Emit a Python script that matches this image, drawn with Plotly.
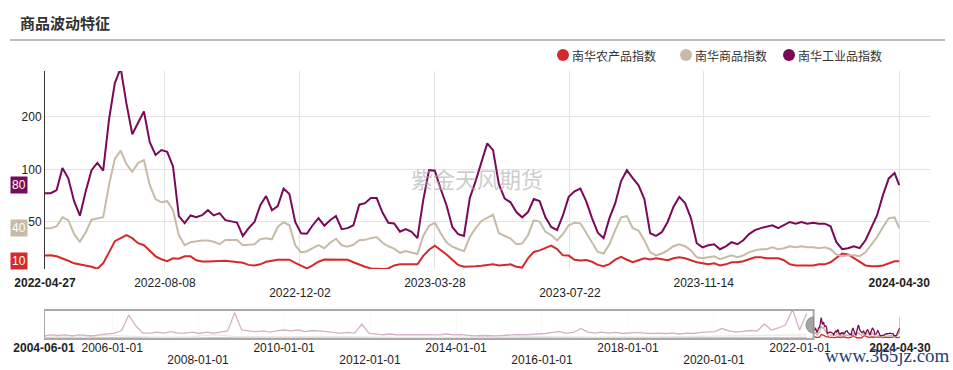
import plotly.graph_objects as go
import pandas as pd
import numpy as np

W, H = 953, 370

# ---------------- data (main window, every 5 days + last day) ----------------
dates = list(pd.date_range("2022-04-27", "2024-04-26", freq="5D")) + [pd.Timestamp("2024-04-30")]

purple = [73.1, 73.1, 76.1, 102, 89, 65.8, 54.3, 75, 99, 109,
          98.5, 193, 312, 380, 238, 159, 185, 215, 143, 121,
          129, 126, 104, 54, 49.3, 54.5, 53.2, 54.7, 58.4, 54.5,
          56.2, 51.2, 50.4, 49.6, 41.6, 46.1, 50, 62.4, 70.4, 58.4,
          61.6, 77.6, 72.2, 50, 43.1, 42.8, 47.9, 52.6, 47.6, 51.2,
          54.1, 45.5, 46.1, 47.9, 62.8, 64.1, 68.5, 68.5, 56.6, 49.5,
          49, 44, 45.5, 43.9, 40.4, 66.7, 99, 98.4, 77.2, 62.4,
          46.8, 42.6, 41.6, 68.5, 85.7, 111, 141, 129, 82.3, 68,
          64.8, 57, 53.2, 57, 67.6, 65.8, 53.2, 46.8, 44.9, 54.5,
          69.6, 75, 77.6, 65.8, 52.6, 43.4, 40.4, 52.6, 64.1, 85.7,
          99, 89.1, 81, 67.6, 43.1, 41.6, 43.7, 50, 61, 69.6,
          64.1, 52.6, 37.8, 35.8, 36.8, 37.3, 34.9, 36.3, 38.3, 37.3,
          39.3, 42.6, 44.9, 46.1, 46.8, 47.9, 46.1, 47.9, 50, 48.9,
          50, 48.9, 49.5, 48.9, 48.9, 47.2, 38.3, 34.9, 35.4, 36.3,
          35.4, 39.3, 46.1, 54.7, 71.2, 88.8, 95.3, 81.3]

beige = [46.1, 46.1, 47.2, 53.2, 51.2, 42.6, 38.5, 43.7, 51.5, 52.2,
         53.2, 81.3, 115, 128, 107, 97, 109, 113, 81.3, 67.6,
         64.8, 65.8, 58.4, 42, 36.8, 38.3, 38.8, 39.2, 39.2, 38.5,
         37.3, 39.4, 39.4, 39.4, 36.8, 37, 37.3, 39.8, 40.4, 39.8,
         46.8, 49.8, 47.9, 36.8, 33.5, 34, 35.2, 36.8, 35.4, 38,
         40.1, 36.8, 36.1, 37, 39.3, 39.5, 40.4, 41, 38, 36.3,
         35.2, 33.3, 34.1, 33.5, 32.8, 41.6, 47.6, 49.5, 43.1, 38.3,
         36.1, 35, 34, 41, 46.1, 50.7, 52.6, 55.1, 43.1, 41.8,
         40.2, 37.3, 37.6, 42, 51, 50.3, 44, 42, 39.3, 42.6,
         47.9, 49.5, 49.1, 43.4, 38, 33.7, 33, 37.3, 44.9, 53.2,
         54, 46.1, 44.6, 39.3, 33.5, 32.2, 33, 34.4, 36.3, 37.3,
         36.3, 34.4, 31.4, 31, 31.4, 31.8, 30.6, 31.4, 32.2, 31.4,
         32.2, 33.5, 34.4, 34.9, 34.9, 35.8, 34.9, 35.4, 36.3, 35.8,
         36.3, 35.8, 35.8, 35.4, 35.8, 34.9, 32.6, 31.8, 32.2, 32.2,
         31.8, 33.5, 36.8, 41, 46.8, 52.6, 53.2, 46.1]

red = [32.1, 32.2, 31.8, 31, 30, 29, 28.6, 28.2, 27.7, 27,
       29, 33.5, 38.8, 40.4, 42, 40.4, 37.8, 36.8, 34.4, 31.8,
       30.6, 29.8, 31, 30.8, 31.8, 31.8, 30.2, 29.7, 29.7, 29.7,
       29.9, 30, 29.8, 29.4, 29.2, 28.4, 28.2, 28.6, 29.6, 30,
       30.4, 30.4, 30.4, 29.2, 28.1, 27.1, 28.2, 29.6, 30.5, 30.5,
       30.5, 30.5, 30.4, 29.4, 28.4, 27.7, 27.1, 26.9, 26.9, 27.1,
       28.2, 28.6, 28.6, 28.6, 28.6, 32, 34.7, 36.6, 34.7, 32.6,
       30.4, 28.4, 27.7, 27.7, 27.9, 28.1, 28.4, 28.6, 28.2, 28.5,
       28.6, 27.7, 27.4, 31, 33.7, 34.4, 35.6, 36.6, 35, 32.2,
       32.1, 30.4, 30.1, 30.3, 29.6, 28.4, 27.9, 28.7, 30.4, 31.6,
       30.4, 29.4, 30.2, 31, 30.5, 31, 30.6, 30.2, 31, 31.4,
       31, 30.2, 29.4, 29, 28.6, 29, 28.2, 28.6, 29.4, 29.4,
       29.8, 30.6, 31.4, 31.4, 31, 31, 31, 30.2, 28.6, 28.2,
       28.2, 28.2, 28.2, 28.6, 28.6, 29.4, 31, 33, 32.6, 31,
       29.4, 28.2, 27.9, 27.9, 28.2, 29, 29.8, 29.8]

# ---------------- navigator history (before the selected window) ----------------
hist_dates = pd.date_range("2004-06-01", periods=109, freq="60D")
purple_hist = [35, 40, 37, 40, 35, 40, 37, 35, 42, 45,
               51, 71, 541, 128, 51, 51, 58, 51, 61, 51,
               51, 58, 48, 58, 51, 58, 67, 731, 76, 67,
               62, 67, 58, 67, 76, 67, 76, 62, 71, 67,
               58, 55, 51, 55, 51, 167, 51, 45, 40, 45,
               40, 42, 42, 40, 42, 42, 40, 45, 40, 42,
               37, 35, 37, 35, 35, 37, 40, 42, 40, 42,
               45, 48, 55, 61, 51, 55, 92, 58, 51, 58,
               51, 55, 48, 51, 55, 51, 48, 51, 48, 51,
               45, 51, 48, 55, 58, 62, 92, 67, 58, 62,
               71, 67, 167, 76, 99, 146, 1111, 76, 665]
hist_dates2 = pd.date_range("2004-06-01", periods=37, freq="180D")
beige_hist = [31, 30, 32, 38, 33, 31, 30, 32, 42, 33,
              32, 31, 32, 33, 31, 30, 30, 29, 29, 29,
              30, 30, 31, 33, 31, 31, 30, 31, 30, 31,
              32, 33, 34, 35, 38, 36, 40]
red_hist = [29, 27, 27, 28, 27, 27, 27, 26, 28, 27,
            27, 27, 27, 27, 27, 26, 26, 26, 26, 26,
            26, 26, 27, 27, 27, 26, 26, 26, 27, 27,
            27, 27, 28, 28, 28, 28, 29]

names = ["南华农产品指数", "南华商品指数", "南华工业品指数"]
colors = ["#d42a2c", "#c7baa6", "#7a0a57"]
last_labels = ["10", "40", "80"]

main_ticks_r1 = ["2022-04-27", "2022-08-08", "2023-03-28", "2023-11-14", "2024-04-30"]
main_text_r1 = ["<b>2022-04-27</b>", "2022-08-08", "2023-03-28", "2023-11-14", "<b>2024-04-30</b>"]
main_ticks_r2 = ["2022-12-02", "2023-07-22"]
nav_ticks_r1 = ["2004-06-01", "2006-01-01", "2010-01-01", "2014-01-01", "2018-01-01", "2022-01-01", "2024-04-30"]
nav_text_r1 = ["<b>2004-06-01</b>", "2006-01-01", "2010-01-01", "2014-01-01", "2018-01-01", "2022-01-01",
               "<b>2024-04-30</b>"]
nav_ticks_r2 = ["2008-01-01", "2012-01-01", "2016-01-01", "2020-01-01"]
y_ticks = [50, 100, 200]

# ---------------- geometry helpers ----------------
def px(x):
    return x / W

def py(y):
    return 1 - y / H

main_left, main_right, main_top, main_bottom = 45, 930, 71, 269
nav_left, nav_right, nav_top, nav_bottom = 44, 900, 310, 339

fig = go.Figure()

series_main = [red, beige, purple]
for vals, c in zip(series_main, colors):
    fig.add_trace(go.Scatter(x=dates, y=vals, mode="lines", line=dict(color=c, width=2),
                             showlegend=False, hoverinfo="skip", xaxis="x", yaxis="y"))

for hd, hv, c in [(hist_dates2, red_hist, colors[0]), (hist_dates2, beige_hist, colors[1]),
                  (hist_dates, purple_hist, colors[2])]:
    fig.add_trace(go.Scatter(x=list(hd) + [dates[0]], y=list(hv) + [None], mode="lines",
                             line=dict(color=c, width=1.3), showlegend=False, hoverinfo="skip",
                             xaxis="x2", yaxis="y2"))
for vals, c in zip(series_main, colors):
    fig.add_trace(go.Scatter(x=dates, y=vals, mode="lines", line=dict(color=c, width=1.3),
                             showlegend=False, hoverinfo="skip", xaxis="x2", yaxis="y2"))

# empty helper traces so the second-row label axes get drawn
fig.add_trace(go.Scatter(x=[None], y=[None], mode="lines", showlegend=False, hoverinfo="skip",
                         xaxis="x3", yaxis="y"))
fig.add_trace(go.Scatter(x=[None], y=[None], mode="lines", showlegend=False, hoverinfo="skip",
                         xaxis="x4", yaxis="y2"))

main_end = pd.Timestamp("2022-04-27") + pd.Timedelta(days=(main_right - main_left) / 1.1638)
tickfont = dict(size=12, color="#222222", family="Liberation Sans, Arial")

common_x = dict(type="date", showline=False, zeroline=False, ticks="", automargin=False,
                fixedrange=True, tickfont=tickfont, tickmode="array")

fig.update_layout(
    width=W, height=H, margin=dict(l=0, r=0, t=0, b=0, autoexpand=False),
    paper_bgcolor="white", plot_bgcolor="white",
    font=dict(family="Noto Sans CJK SC, Noto Sans, sans-serif", size=12, color="#333333"),
    xaxis=dict(domain=[px(main_left), px(main_right)], range=[dates[0], main_end],
               tickvals=main_ticks_r1, ticktext=main_text_r1, showgrid=True, gridcolor="#e3e3e3",
               anchor="y", ticklabelstandoff=5, **common_x),
    xaxis3=dict(domain=[px(main_left), px(main_right)], range=[dates[0], main_end], overlaying="x",
                tickvals=main_ticks_r2, ticktext=main_ticks_r2, showgrid=True, gridcolor="#e3e3e3",
                anchor="y", side="bottom", ticklabelstandoff=15, **common_x),
    yaxis=dict(domain=[py(main_bottom), py(main_top)], type="log",
               range=[np.log10(26.9), np.log10(366)], tickmode="array", tickvals=y_ticks,
               ticktext=[str(v) for v in y_ticks], showgrid=True, gridcolor="#e3e3e3",
               showline=True, linecolor="#333333", linewidth=1, ticks="", zeroline=False,
               tickfont=tickfont, anchor="x", fixedrange=True, automargin=False),
    xaxis2=dict(domain=[px(nav_left), px(nav_right)], range=["2004-06-01", "2024-04-30"],
                tickvals=nav_ticks_r1, ticktext=nav_text_r1, showgrid=True, gridcolor="#ececec",
                anchor="y2", ticklabelstandoff=0, **common_x),
    xaxis4=dict(domain=[px(nav_left), px(nav_right)], range=["2004-06-01", "2024-04-30"], overlaying="x2",
                tickvals=nav_ticks_r2, ticktext=nav_ticks_r2, showgrid=True, gridcolor="#ececec",
                anchor="y2", side="bottom", ticklabelstandoff=12, **common_x),
    yaxis2=dict(domain=[py(nav_bottom), py(nav_top)], type="log",
                range=[np.log10(25) - 0.5 / 17.6, np.log10(25) + 28.5 / 17.6],
                showgrid=False, showticklabels=False, showline=False, zeroline=False,
                anchor="x2", fixedrange=True, automargin=False),
)

shapes = []
shapes.append(dict(type="line", xref="paper", yref="paper", x0=px(10), x1=px(945), y0=py(40), y1=py(40),
                   line=dict(color="#a8a8a8", width=1.5)))
shapes.append(dict(type="rect", xref="x2", yref="paper", x0="2004-06-01", x1=str(dates[0].date()),
                   y0=py(nav_bottom), y1=py(nav_top), fillcolor="rgba(255,255,255,0.68)",
                   line=dict(color="#a9a9a9", width=2), layer="above"))
hy = py(325)
shapes.append(dict(type="path", xref="x2", yref="paper", xsizemode="pixel", ysizemode="pixel",
                   xanchor=str(dates[0].date()), yanchor=hy,
                   path="M 0,8 C -10,8 -10,-8 0,-8 Z", fillcolor="#a3a3a3", line=dict(color="#8c8c8c", width=1)))
shapes.append(dict(type="path", xref="x2", yref="paper", xsizemode="pixel", ysizemode="pixel",
                   xanchor=str(dates[-1].date()), yanchor=hy,
                   path="M 0,8 C 10,8 10,-8 0,-8 Z", fillcolor="#a3a3a3", line=dict(color="#8c8c8c", width=1)))
leg_x = [563, 686, 789]
for lx, c in zip(leg_x, colors):
    shapes.append(dict(type="circle", xref="paper", yref="paper", x0=px(lx - 6), x1=px(lx + 6),
                       y0=py(61), y1=py(49), fillcolor=c, line=dict(width=0)))
fig.update_layout(shapes=shapes)

ann = []
ann.append(dict(text="<b>商品波动特征</b>", x=px(18), y=py(22), xref="paper", yref="paper",
                xanchor="left", yanchor="middle", showarrow=False,
                font=dict(size=15, color="#333333", family="Noto Sans CJK SC")))
for lx, n in zip(leg_x, names):
    ann.append(dict(text=n, x=px(lx + 7), y=py(55), xref="paper", yref="paper", xanchor="left",
                    yanchor="middle", showarrow=False, font=dict(size=12, color="#333333", family="Noto Sans CJK SC")))
ann.append(dict(text="紫金天风期货", x=px(477), y=py(178), xref="paper", yref="paper", showarrow=False,
                xanchor="center", yanchor="middle",
                font=dict(size=22, color="rgba(170,170,170,0.6)", family="Noto Sans CJK SC")))
for vals, c, t in zip(series_main, colors, last_labels):
    ann.append(dict(text=t, x=px(18.5), y=np.log10(vals[-1]), xref="paper", yref="y", showarrow=False,
                    bgcolor=c, font=dict(size=12, color="white", family="Liberation Sans, Arial"),
                    borderpad=1, xanchor="center", yanchor="middle"))
ann.append(dict(text="www.365jz.com", x=px(887), y=py(355), xref="paper", yref="paper", showarrow=False,
                xanchor="center", yanchor="middle",
                font=dict(size=19, color="#1d3f78", family="Liberation Serif, DejaVu Serif, serif")))
fig.update_layout(annotations=ann)

fig.write_html("out.html", config={"displayModeBar": False},
               post_script="document.body.style.margin='0';document.body.style.overflow='hidden';")
